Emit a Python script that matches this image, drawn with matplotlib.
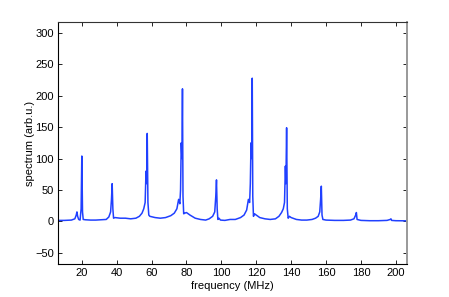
import numpy as np
import matplotlib
matplotlib.use('Agg')
import matplotlib.pyplot as plt

plt.rcParams['font.family'] = ['Liberation Sans', 'DejaVu Sans']

# spectrum
freq_mhz = [6, 10, 14, 16, 16.8, 17.2, 17.6, 18.2, 19, 19.6, 20, 20.4, 20.8,
            22, 25, 28, 31, 34, 35.5, 36.5, 37, 37.4, 37.8, 38.2, 39,
            42, 45, 48, 51, 53, 54.5, 55.5, 56.3, 56.8, 57.2, 57.5, 57.9, 58.4, 59,
            62, 65, 68, 71, 73, 74.5, 75.5, 76.2, 76.6, 77, 77.4, 77.7, 78.0, 78.4,
            79, 80, 82, 85, 88, 91, 93, 95, 96.2, 96.8, 97.2, 97.6, 98.0, 98.6,
            99.5, 102, 105, 108, 111, 113, 114.5, 115.5, 116.2, 116.6, 117, 117.4,
            117.7, 118.0, 118.4, 119, 120, 122, 125, 128, 131, 133, 134.5, 135.5,
            136.2, 136.7, 137, 137.4, 137.8, 138.3, 139, 140, 143, 146, 149, 152,
            154, 155.5, 156.4, 156.9, 157.3, 157.7, 158.2, 160, 165, 170, 174, 176,
            177, 177.4, 177.8, 180, 185, 190, 195, 196.8, 197.2, 197.6, 200, 206]
spectrum = [1.5, 1.5, 2, 4, 10, 15, 8, 3, 2, 20, 104, 15, 3,
            2.5, 2, 2, 2.5, 3, 7, 15, 35, 60, 20, 5, 6,
            5, 5, 4, 5, 8, 13, 20, 30, 80, 60, 140, 30, 10, 8,
            6, 5, 6, 9, 13, 20, 35, 28, 50, 125, 100, 211, 40, 12,
            13, 14, 10, 5, 3, 2, 4, 8, 15, 40, 66, 20, 3, 5,
            2, 1.5, 3, 3, 6, 10, 18, 35, 30, 60, 125, 100,
            228, 40, 8, 12, 10, 6, 4, 3, 4, 8, 14, 20,
            30, 88, 60, 149, 20, 5, 8, 6, 3, 2, 2, 3,
            5, 8, 15, 35, 56, 10, 3, 2, 1.5, 1.5, 2, 4,
            10, 14, 3, 1.5, 1, 1, 1.5, 3, 4, 1.5, 1, 0.8]

x_ticks = np.arange(20, 201, 20)
y_ticks = np.arange(-50, 301, 50)

fig = plt.figure(figsize=(4.49, 2.97), dpi=100)
ax = fig.add_axes([0.129, 0.111, 0.777, 0.815])
ax.plot(freq_mhz, spectrum, color='#2040ff', lw=1.1)

ax.set_xlim(6.3, 206.3)
ax.set_ylim(-68, 317.5)
ax.set_xticks(x_ticks)
ax.set_yticks(y_ticks)
ax.tick_params(direction='in', top=True, right=True, length=3, width=0.6,
               labelsize=8, pad=3)
ax.set_xlabel('frequency (MHz)', fontsize=8, labelpad=2)
ax.set_ylabel('spectrum (arb.u.)', fontsize=8, labelpad=0)
for side in ['left', 'bottom', 'top']:
    ax.spines[side].set_linewidth(0.8)
ax.spines['top'].set_color('#333333')
ax.spines['right'].set_color('#999999')
ax.spines['right'].set_linewidth(1.4)

fig.savefig('out.png', dpi=100)
